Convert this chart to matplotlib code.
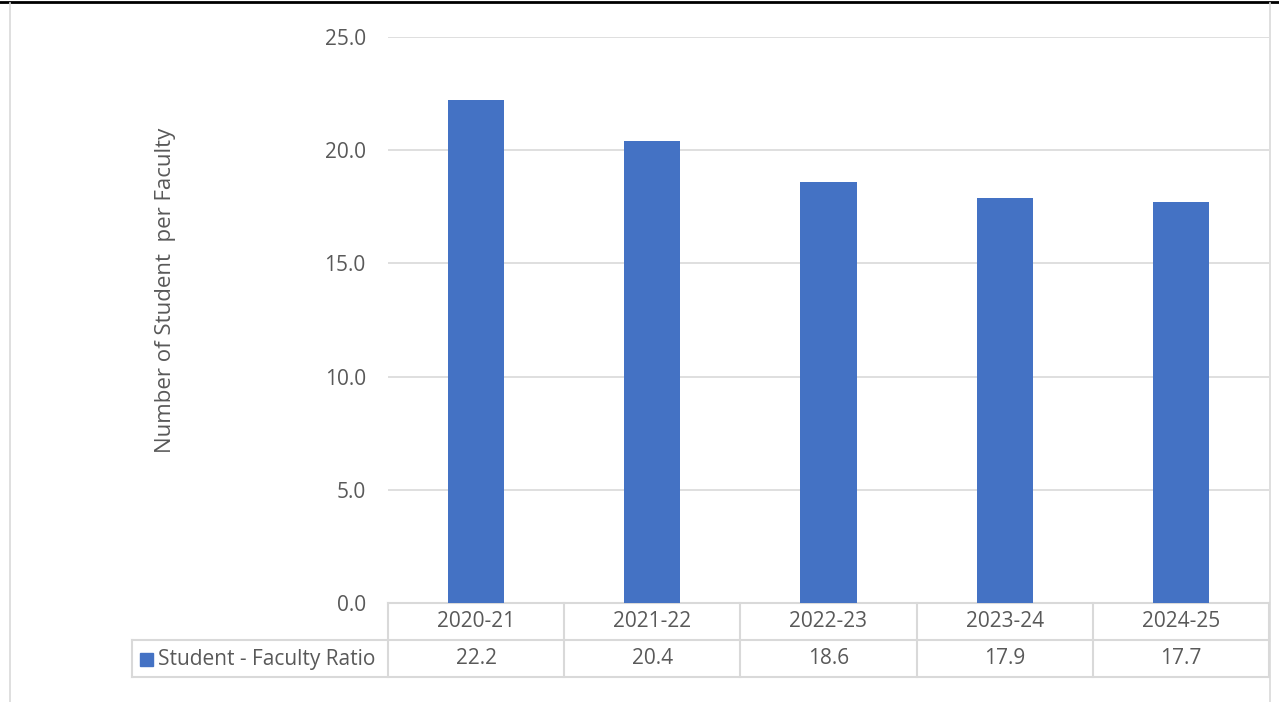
import matplotlib.pyplot as plt
from matplotlib.lines import Line2D
from matplotlib.patches import Rectangle

years = ['2020-21', '2021-22', '2022-23', '2023-24', '2024-25']
ratio = [22.2, 20.4, 18.6, 17.9, 17.7]
series_name = 'Student - Faculty Ratio'
y_ticks = [0, 5, 10, 15, 20, 25]

bar_color = '#4472C4'
grid_color = '#D9D9D9'
text_color = '#595959'
plt.rcParams['font.family'] = ['Open Sans', 'DejaVu Sans']
fs = 15

W, H = 1279, 702
fig = plt.figure(figsize=(W / 100, H / 100), dpi=100)

# plot area in pixels
x0, x1, ytop, ybot = 388, 1269, 37, 603
ax = fig.add_axes([x0 / W, 1 - ybot / H, (x1 - x0) / W, (ybot - ytop) / H])

ax.bar(range(len(years)), ratio, width=0.32, color=bar_color, zorder=3)
ax.set_xlim(-0.5, len(years) - 0.5)
ax.set_ylim(0, 25)
ax.set_yticks(y_ticks)
ax.set_yticklabels([f'{v:.1f}' for v in y_ticks], fontsize=fs, color=text_color)
ax.tick_params(axis='y', length=0, pad=16)
ax.set_xticks([])
ax.grid(axis='y', color=grid_color, linewidth=1.2, zorder=0)
for s in ax.spines.values():
    s.set_visible(False)

# data table below the axis
row_h = 37 / (ybot - ytop)
cat_px = (x1 - x0) / len(years)
legend_left = -0.5 - (x0 - 132) / cat_px
tkw = dict(color=grid_color, linewidth=1.5, clip_on=False, transform=ax.get_xaxis_transform())
for k in [0, -row_h, -2 * row_h]:
    xs = -0.5 if k == 0 else legend_left
    ax.add_line(Line2D([xs, len(years) - 0.5], [k, k], **tkw))
for i in range(len(years) + 1):
    ax.add_line(Line2D([i - 0.5, i - 0.5], [0, -2 * row_h], **tkw))
ax.add_line(Line2D([legend_left, legend_left], [-row_h, -2 * row_h], **tkw))

for i, (yr, v) in enumerate(zip(years, ratio)):
    ax.text(i, -0.5 * row_h, yr, ha='center', va='center', fontsize=fs,
            color=text_color, transform=ax.get_xaxis_transform())
    ax.text(i, -1.5 * row_h, f'{v:.1f}', ha='center', va='center', fontsize=fs,
            color=text_color, transform=ax.get_xaxis_transform())

# legend key inside the table
fig.add_artist(Rectangle((140 / W, 1 - 666 / H), 13 / W, 13 / H,
                         color=bar_color, transform=fig.transFigure))
fig.text(158 / W, 1 - 659 / H, series_name, ha='left', va='center',
         fontsize=fs, color=text_color)

# axis title
fig.text(165 / W, 1 - 290 / H, 'Number of Student  per Faculty', rotation=90,
         ha='center', va='center', fontsize=16, color=text_color)

# outer frame bits
fig.add_artist(Line2D([0, 1], [1 - 2 / H, 1 - 2 / H], color='black', linewidth=2,
                      transform=fig.transFigure))
fig.add_artist(Line2D([10 / W, 10 / W], [0, 1 - 3 / H], color=grid_color, linewidth=1.2,
                      transform=fig.transFigure))
fig.add_artist(Line2D([1270 / W, 1270 / W], [0, 1 - 3 / H], color=grid_color, linewidth=1.2,
                      transform=fig.transFigure))

fig.savefig('out.png', dpi=100)
